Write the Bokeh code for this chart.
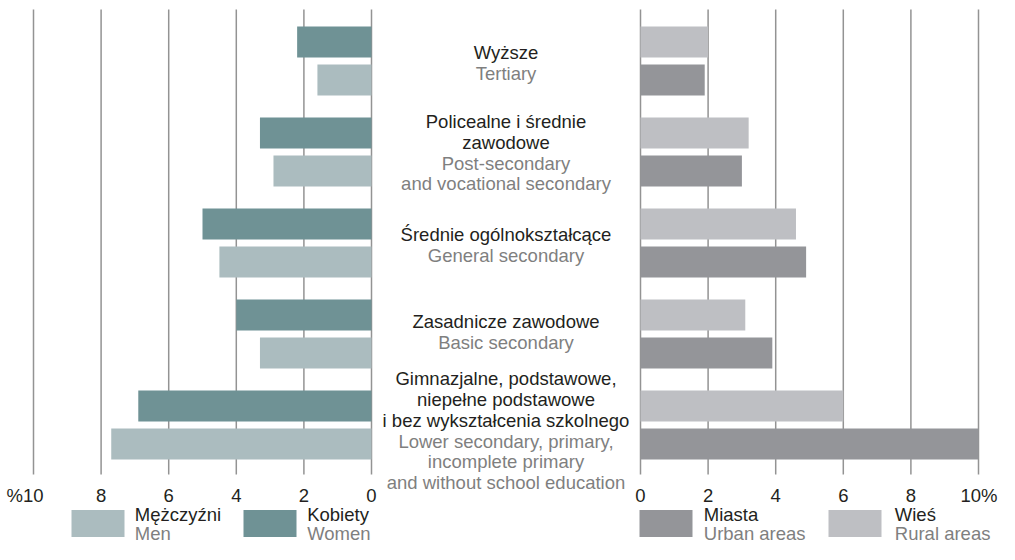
from bokeh.plotting import figure
from bokeh.models import Range1d
from bokeh.embed import file_html
from bokeh.resources import INLINE
from bokeh.core.properties import value

# ---- data ----
levels_pl = [
    ["Wyższe"],
    ["Policealne i średnie", "zawodowe"],
    ["Średnie ogólnokształcące"],
    ["Zasadnicze zawodowe"],
    ["Gimnazjalne, podstawowe,", "niepełne podstawowe", "i bez wykształcenia szkolnego"],
]
levels_en = [
    ["Tertiary"],
    ["Post-secondary", "and vocational secondary"],
    ["General secondary"],
    ["Basic secondary"],
    ["Lower secondary, primary,", "incomplete primary", "and without school education"],
]
women = [2.2, 3.3, 5.0, 4.0, 6.9]
men = [1.6, 2.9, 4.5, 3.3, 7.7]
rural = [2.0, 3.2, 4.6, 3.1, 6.0]
urban = [1.9, 3.0, 4.9, 3.9, 10.0]
ticks = [0, 2, 4, 6, 8, 10]
tick_labels = ["0", "2", "4", "6", "8", "10"]
legend_left = [("Mężczyźni", "Men"), ("Kobiety", "Women")]
legend_right = [("Miasta", "Urban areas"), ("Wieś", "Rural areas")]

# ---- style ----
C_WOMEN = "#6f9295"
C_MEN = "#abbcbf"
C_RURAL = "#bebfc3"
C_URBAN = "#949599"
C_TEXT = "#231f20"
C_SUB = "#7f7f7f"
C_GRID = "#939393"
FONT = value("Liberation Sans")
FS = "18.5px"

W, H = 999, 544
UNIT = 33.8
L0, R0 = 371, 640          # canvas x of the two zero lines
TOP, STEP = 60.5, 91        # canvas y of first group centre, group spacing
BAR_OFF, BAR_H = 19, 31

p = figure(width=W, height=H, x_range=Range1d(0, W), y_range=Range1d(H, 0),
           output_backend="svg", toolbar_location=None, min_border=0,
           x_axis_type=None, y_axis_type=None)
p.grid.visible = False
p.outline_line_color = None
p.background_fill_color = "white"
p.border_fill_color = "white"
p.extra_x_ranges = {
    "L": Range1d(L0 / UNIT, -(W - L0) / UNIT),
    "R": Range1d(-R0 / UNIT, (W - R0) / UNIT),
}

centers = [TOP + STEP * i for i in range(len(women))]
upper = [c - BAR_OFF for c in centers]
lower = [c + BAR_OFF for c in centers]

# grid lines
for rn in ("L", "R"):
    p.segment(x0=ticks, y0=[9] * len(ticks), x1=ticks, y1=[474] * len(ticks),
              x_range_name=rn, line_color=C_GRID, line_width=1.5)

# bars
p.hbar(y=upper, left=0, right=women, height=BAR_H, x_range_name="L", fill_color=C_WOMEN, line_color=None)
p.hbar(y=lower, left=0, right=men, height=BAR_H, x_range_name="L", fill_color=C_MEN, line_color=None)
p.hbar(y=upper, left=0, right=rural, height=BAR_H, x_range_name="R", fill_color=C_RURAL, line_color=None)
p.hbar(y=lower, left=0, right=urban, height=BAR_H, x_range_name="R", fill_color=C_URBAN, line_color=None)

# tick labels
TY = 495
common = dict(text_baseline="middle", text_font=FONT, text_font_size=FS)
p.text(x=ticks[:-1], y=[TY] * 5, text=tick_labels[:-1], x_range_name="L", text_align="center",
       text_color=C_TEXT, **common)
p.text(x=[ticks[-1]], y=[TY], text=["%" + tick_labels[-1]], x_range_name="L", text_align="right",
       x_offset=10, text_color=C_TEXT, **common)
p.text(x=ticks[:-1], y=[TY] * 5, text=tick_labels[:-1], x_range_name="R", text_align="center",
       text_color=C_TEXT, **common)
p.text(x=[ticks[-1]], y=[TY], text=[tick_labels[-1] + "%"], x_range_name="R", text_align="right",
       x_offset=19, text_color=C_TEXT, **common)

# centre category labels
LINE = 20.8
nudge = [1, -0.5, 0.5, -3, 4.5]
CX = (L0 + R0) / 2
xs, ys, txt, cols = [], [], [], []
for g, c in enumerate(centers):
    lines = [(t, C_TEXT) for t in levels_pl[g]] + [(t, C_SUB) for t in levels_en[g]]
    n = len(lines)
    for k, (t, col) in enumerate(lines):
        xs.append(CX)
        ys.append(c + 1.2 + nudge[g] + (k - (n - 1) / 2) * LINE)
        txt.append(t)
        cols.append(col)
p.text(x=xs, y=ys, text=txt, text_color=cols, text_align="center", **common)

# legends
SW_T, SW_B = 509.5, 536.5
ML1, ML2 = 513.5, 532.5
sw_x = [(71, 124, 134.3), (243, 296, 306.7), (639, 692, 703.3), (828, 881, 894.3)]
sw_col = [C_MEN, C_WOMEN, C_URBAN, C_RURAL]
labels = legend_left + legend_right
p.quad(left=[s[0] for s in sw_x], right=[s[1] for s in sw_x], top=[SW_T] * 4, bottom=[SW_B] * 4,
       fill_color=sw_col, line_color=None)
p.text(x=[s[2] for s in sw_x], y=[ML1] * 4, text=[l[0] for l in labels], text_color=C_TEXT,
       text_align="left", **common)
p.text(x=[s[2] for s in sw_x], y=[ML2] * 4, text=[l[1] for l in labels], text_color=C_SUB,
       text_align="left", **common)

open("out.html", "w").write(file_html(p, INLINE))
